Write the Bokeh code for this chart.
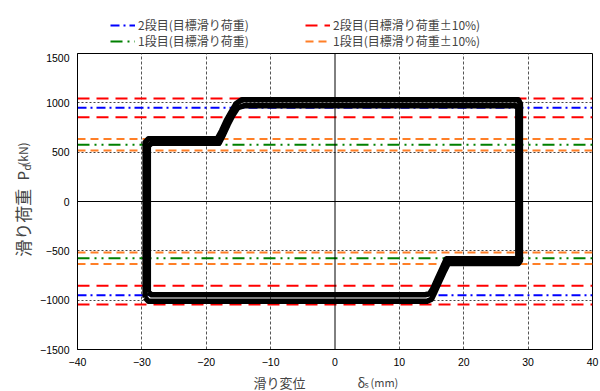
from bokeh.plotting import figure
from bokeh.models import Range1d, Legend, LegendItem, Label, Span, FixedTicker
from bokeh.layouts import column, row
from bokeh.embed import file_html
from bokeh.resources import INLINE
import math

# ---- data ----
x_ticks = [-40, -30, -20, -10, 0, 10, 20, 30, 40]
y_ticks = [-1500, -1000, -500, 0, 500, 1000, 1500]

target2 = 950.0          # 2段目 目標滑り荷重 (kN)
target1 = 575.0          # 1段目 目標滑り荷重 (kN)
tol = 0.10

legend_labels = ["2段目(目標滑り荷重)", "2段目(目標滑り荷重±10%)",
                 "1段目(目標滑り荷重)", "1段目(目標滑り荷重±10%)"]

# hysteresis loops (slip displacement mm, slip load kN)
loop_a_x = [-29.5, -29.5, -29.0, -18.3, -17.6, -16.9, -16.2, -15.4, -14.5, 28.5, 28.8, 28.8, 28.5,
            17.6, 16.9, 16.2, 15.5, 15.0, 14.3, -29.0, -29.5]
loop_a_y = [-975, 600, 635, 635, 720, 820, 900, 990, 1030, 1030, 990, -600, -628,
            -628, -720, -820, -920, -990, -1010, -1010, -975]
loop_b_x = [-29.0, -29.0, -28.5, -18.0, -17.3, -16.6, -15.9, -15.1, -14.2, 28.1, 28.4, 28.4, 28.1,
            17.3, 16.6, 15.9, 15.2, 14.7, 14.0, -28.5, -29.0]
loop_b_y = [-920, 560, 590, 590, 680, 780, 870, 950, 970, 970, 945, -560, -580,
            -580, -680, -780, -880, -935, -945, -945, -920]

FONT = "Noto Sans CJK JP"
TICKFONT = "Liberation Sans"

STYLES = [("#0000FF", "9 4 2 4"), ("#FF0000", "12 7"),
          ("#008000", "12 5 2 5 2 5"), ("#FF7F27", "8 5")]

LEFT_W = 34
TOP_H = 53
MAIN_H = 319


def strip(w, h):
    f = figure(width=w, height=h, title=None, output_backend="svg", toolbar_location=None,
               x_range=Range1d(0, w), y_range=Range1d(h, 0),
               x_axis_type=None, y_axis_type=None,
               min_border_left=0, min_border_right=0, min_border_top=0, min_border_bottom=0)
    f.outline_line_color = None
    f.grid.visible = False
    return f

# ---------------- main plot ----------------
p = figure(width=600 - LEFT_W, height=MAIN_H, title=None, output_backend="svg", toolbar_location=None,
           x_range=Range1d(-40, 40), y_range=Range1d(-1500, 1500),
           min_border_left=77 - LEFT_W, min_border_right=8, min_border_top=0,
           min_border_bottom=MAIN_H - 296)
p.outline_line_color = "black"
p.outline_line_width = 1

for ax in (p.xaxis, p.yaxis):
    ax.axis_label = None
    ax.axis_label_standoff = 0
    ax.major_tick_line_color = None
    ax.minor_tick_line_color = None
    ax.major_tick_out = 0
    ax.major_tick_in = 0
    ax.minor_tick_out = 0
    ax.minor_tick_in = 0
    ax.axis_line_color = "black"
    ax.major_label_text_font = TICKFONT
    ax.major_label_text_font_size = "10.5px"
    ax.major_label_text_color = "black"
p.xaxis.ticker = FixedTicker(ticks=x_ticks)
p.yaxis.ticker = FixedTicker(ticks=y_ticks)
p.xaxis.major_label_standoff = 8
p.yaxis.major_label_standoff = 8

p.xgrid.ticker = FixedTicker(ticks=[t for t in x_ticks if t not in (-40, 0, 40)])
p.ygrid.ticker = FixedTicker(ticks=[t for t in y_ticks if t not in (-1500, 0, 1500)])
p.xgrid.grid_line_color = "#555555"
p.xgrid.grid_line_dash = "3 2"
p.ygrid.grid_line_color = "#444444"
p.ygrid.grid_line_dash = "2 2"

p.add_layout(Span(location=0, dimension="height", line_color="black", line_width=1))
p.add_layout(Span(location=0, dimension="width", line_color="black", line_width=1))

xs = [-40, 40]
levels = [
    [target2, -target2],
    [target2 * (1 + tol), target2 * (1 - tol), -target2 * (1 + tol), -target2 * (1 - tol)],
    [target1, -target1],
    [target1 * (1 + tol), target1 * (1 - tol), -target1 * (1 + tol), -target1 * (1 - tol)],
]
for (color, dash), lv in zip(STYLES, levels):
    for v in lv:
        p.line(xs, [v, v], line_color=color, line_dash=dash, line_width=2)

p.line(loop_a_x, loop_a_y, line_color="black", line_width=5.5, line_join="round")
p.line(loop_b_x, loop_b_y, line_color="black", line_width=5.5, line_join="round")

# ---------------- legend strip (top) ----------------
top = strip(600, TOP_H)
legend_pos = [(110, 20), (305, 20), (110, 4), (305, 4)]
for (color, dash), lab, loc in zip(STYLES, legend_labels, legend_pos):
    # sample renderer placed outside the visible strip; only its legend glyph shows
    r = top.line([-20, -10], [-20, -20], line_color=color, line_dash=dash, line_width=2)
    lg = Legend(items=[LegendItem(label=lab, renderers=[r])], location=loc,
                orientation="horizontal", padding=0, margin=0, spacing=0,
                glyph_width=25, glyph_height=14, label_height=14, label_standoff=3,
                label_text_font=FONT, label_text_font_size="12px",
                border_line_color=None, background_fill_alpha=0)
    top.add_layout(lg)

# ---------------- y label strip (left) ----------------
left = strip(LEFT_W, MAIN_H)
A = math.pi / 2
left.add_layout(Label(x=21.5, y=219, text="滑り荷重", angle=A, text_font=FONT,
                      text_font_size="17px", text_baseline="middle", text_align="left"))
left.add_layout(Label(x=21.5, y=137, text="P", angle=A, text_font=FONT,
                      text_font_size="15px", text_baseline="middle", text_align="left"))
left.add_layout(Label(x=25.5, y=126, text="d", angle=A, text_font=FONT,
                      text_font_size="10px", text_baseline="middle", text_align="left"))
left.add_layout(Label(x=21.5, y=121, text="(kN)", angle=A, text_font=FONT,
                      text_font_size="12px", text_baseline="middle", text_align="left"))

# ---------------- x label strip (bottom) ----------------
BOT_H = 391 - TOP_H - MAIN_H
bottom = strip(600, BOT_H)
bottom.add_layout(Label(x=253, y=0, text="滑り変位", text_font=FONT,
                        text_font_size="13px", text_baseline="top", text_align="left"))
bottom.add_layout(Label(x=357, y=0, text="δ", text_font=FONT,
                        text_font_size="13px", text_baseline="top", text_align="left"))
bottom.add_layout(Label(x=364, y=5, text="s", text_font=FONT,
                        text_font_size="9px", text_baseline="top", text_align="left"))
bottom.add_layout(Label(x=370, y=1, text="(mm)", text_font=FONT,
                        text_font_size="11px", text_baseline="top", text_align="left"))

layout = column(top, row(left, p, spacing=0), bottom, spacing=0)
open("out.html", "w").write(file_html(layout, INLINE))
